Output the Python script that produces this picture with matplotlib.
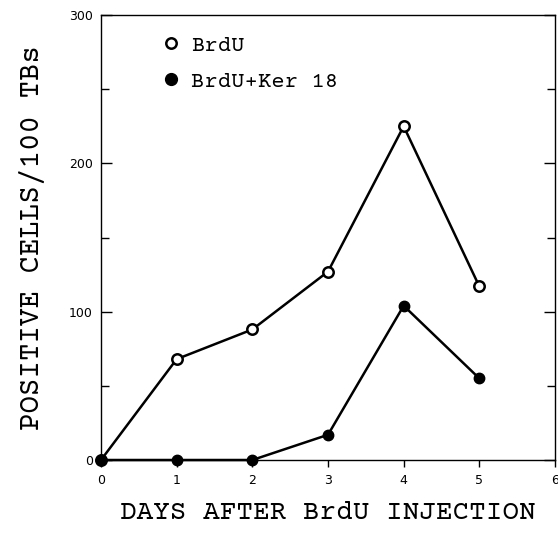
import matplotlib.pyplot as plt
from matplotlib.lines import Line2D
from matplotlib.ticker import MultipleLocator

days = [0, 1, 2, 3, 4, 5]
brdu = [0, 68, 88, 127, 225, 117]
brdu_ker18 = [0, 0, 0, 17, 104, 55]

fig = plt.figure(figsize=(5.58, 5.36), dpi=100)
ax = fig.add_axes([101 / 558, 76 / 536, 454 / 558, 445 / 536])

ax.plot(days, brdu, color="black", lw=1.8, marker="o", ms=7.5,
        mfc="white", mec="black", mew=1.8, clip_on=False, zorder=3)
ax.plot(days, brdu_ker18, color="black", lw=1.8, marker="o", ms=7.5,
        mfc="black", mec="black", clip_on=False, zorder=4)

ax.set_xlim(0, 6)
ax.set_ylim(0, 300)
ax.xaxis.set_major_locator(MultipleLocator(1))
ax.yaxis.set_major_locator(MultipleLocator(100))
ax.yaxis.set_minor_locator(MultipleLocator(50))

ax.tick_params(axis="x", direction="out", length=5, width=1, labelsize=9, pad=5)
ax.tick_params(axis="y", which="both", direction="in", right=True, width=1, labelsize=9, pad=6)
ax.tick_params(axis="y", which="major", length=8)
ax.tick_params(axis="y", which="minor", length=6)
for s in ax.spines.values():
    s.set_linewidth(1)

mono = ["Courier Prime", "Liberation Mono", "DejaVu Sans Mono"]
ax.set_xlabel("DAYS AFTER BrdU INJECTION", fontsize=20, family=mono, labelpad=10)
ax.set_ylabel("POSITIVE CELLS/100 TBs", fontsize=21, family=mono, labelpad=17)

handles = [
    Line2D([], [], ls="none", marker="o", ms=7.5, mfc="white", mec="black", mew=1.8),
    Line2D([], [], ls="none", marker="o", ms=8.5, mfc="black", mec="black"),
]
ax.legend(handles, ["BrdU", "BrdU+Ker 18"], loc="upper left",
          bbox_to_anchor=(0.12, 0.975), frameon=False,
          prop={"family": mono, "size": 16}, handlelength=0.6, handletextpad=0.6,
          labelspacing=0.75, borderaxespad=0)

fig.savefig("out.png", dpi=100)
